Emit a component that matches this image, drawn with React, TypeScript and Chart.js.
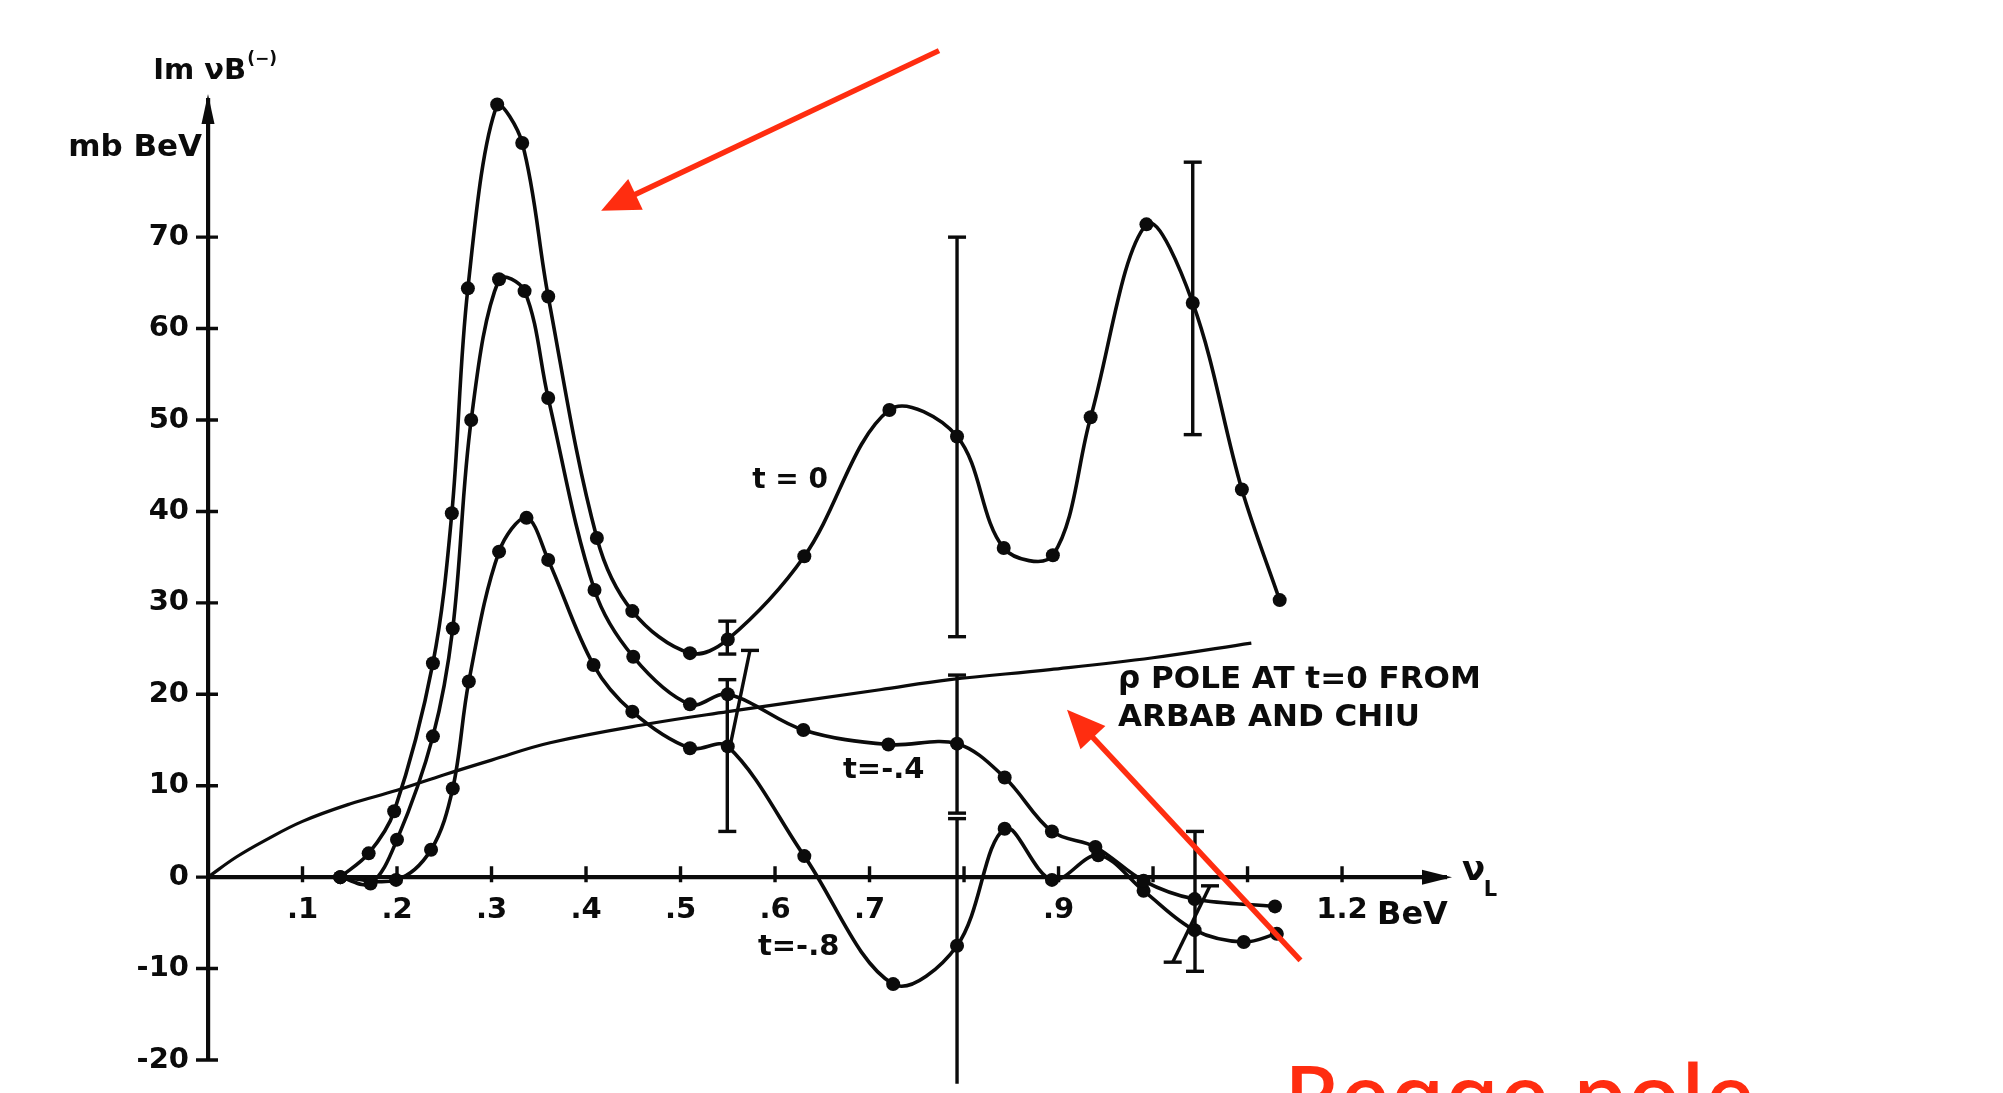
import React, { useEffect, useRef } from "react";
import { Chart, registerables } from "chart.js";
Chart.register(...registerables);

const W = 2003;
const H = 1093;
const INK = "#0b0b0b";
const RED = "#ff2d10";
const FONT = '"DejaVu Sans", sans-serif';

// ---- data (nu_L in BeV, Im nu B(-) in mb BeV) ----
const t0Nu = [0.14, 0.17, 0.197, 0.238, 0.258, 0.275, 0.306, 0.3325, 0.36, 0.4115, 0.449, 0.51, 0.55, 0.631, 0.721, 0.7926, 0.842, 0.894, 0.934, 0.993, 1.042, 1.094, 1.134];
const t0Im = [0, 2.6, 7.2, 23.4, 39.8, 64.4, 84.5, 80.3, 63.5, 37.1, 29.1, 24.5, 26.0, 35.1, 51.1, 48.2, 36.0, 35.2, 50.3, 71.4, 62.8, 42.4, 30.3];

const t4Nu = [0.14, 0.172, 0.2, 0.238, 0.259, 0.2785, 0.308, 0.335, 0.36, 0.409, 0.45, 0.51, 0.55, 0.63, 0.72, 0.7926, 0.843, 0.893, 0.939, 0.99, 1.044, 1.129];
const t4Im = [0, -0.7, 4.1, 15.4, 27.2, 50.0, 65.4, 64.1, 52.4, 31.4, 24.1, 18.9, 20.0, 16.1, 14.5, 14.6, 10.9, 5.0, 3.3, -0.4, -2.4, -3.2];

const t8Nu = [0.14, 0.199, 0.236, 0.259, 0.276, 0.308, 0.337, 0.36, 0.408, 0.449, 0.51, 0.55, 0.631, 0.725, 0.7926, 0.843, 0.893, 0.942, 0.99, 1.044, 1.096, 1.131];
const t8Im = [0, -0.3, 3.0, 9.7, 21.4, 35.6, 39.3, 34.7, 23.2, 18.1, 14.1, 14.3, 2.3, -11.7, -7.5, 5.3, -0.3, 2.4, -1.5, -5.8, -7.1, -6.2];

const poleNu = [0, 0.03, 0.06, 0.1, 0.15, 0.2, 0.25, 0.3, 0.362, 0.468, 0.55, 0.711, 0.785, 0.891, 1.0, 1.104];
const poleIm = [0, 2.2, 4.0, 6.1, 8.0, 9.5, 11.2, 12.8, 14.7, 16.8, 18.1, 20.5, 21.6, 22.7, 24.0, 25.6];

// error bars: from (errX1, errY1) to (errX2, errY2); caps flags
const errX1 = [0.5495, 0.5495, 0.5524, 0.7926, 0.7926, 0.7926, 1.042, 1.0444, 1.0208];
const errY1 = [24.4, 5.0, 14.3, 26.3, 7.0, -22.6, 48.4, -10.3, -9.3];
const errX2 = [0.5495, 0.5495, 0.5735, 0.7926, 0.7926, 0.7926, 1.042, 1.0444, 1.0603];
const errY2 = [28.0, 21.6, 24.8, 70.0, 22.1, 6.4, 78.2, 5.0, -0.95];
const errCap1 = [1, 1, 0, 1, 1, 0, 1, 1, 1];
const errCap2 = [1, 1, 1, 1, 1, 1, 1, 1, 1];

const xTickValues = [0.1, 0.2, 0.3, 0.4, 0.5, 0.6, 0.7, 0.8, 0.9, 1.0, 1.1, 1.2];
const xTickLabels = [".1", ".2", ".3", ".4", ".5", ".6", ".7", "", ".9", "", "", "1.2"];
const yTickValues = [-20, -10, 0, 10, 20, 30, 40, 50, 60, 70];
const yTickLabels = ["-20", "-10", "0", "10", "20", "30", "40", "50", "60", "70"];

const X_MIN = 0;
const X_MAX = 1.31;
const Y_MIN = -20;
const Y_MAX = 85;

const pts = (xs: number[], ys: number[]) => xs.map((x, i) => ({ x, y: ys[i] }));

const curveStyle = {
  borderColor: INK,
  backgroundColor: INK,
  borderWidth: 3.6,
  pointRadius: 7,
  pointBackgroundColor: INK,
  pointBorderWidth: 0,
  pointStyle: "circle",
  tension: 0.35,
  fill: false,
  clip: false as any,
};

function drawArrow(ctx: CanvasRenderingContext2D, x1: number, y1: number, x2: number, y2: number, len: number, half: number, lw: number, color: string) {
  const ang = Math.atan2(y2 - y1, x2 - x1);
  const bx = x2 - Math.cos(ang) * len;
  const by = y2 - Math.sin(ang) * len;
  ctx.strokeStyle = color;
  ctx.fillStyle = color;
  ctx.lineWidth = lw;
  ctx.lineCap = "butt";
  ctx.beginPath();
  ctx.moveTo(x1, y1);
  ctx.lineTo(bx + Math.cos(ang) * 4, by + Math.sin(ang) * 4);
  ctx.stroke();
  ctx.beginPath();
  ctx.moveTo(x2, y2);
  ctx.lineTo(bx + Math.sin(ang) * half, by - Math.cos(ang) * half);
  ctx.lineTo(bx - Math.sin(ang) * half, by + Math.cos(ang) * half);
  ctx.closePath();
  ctx.fill();
}

const decor = {
  id: "decor",
  beforeDraw(chart: any) {
    const ctx = chart.ctx;
    ctx.save();
    ctx.fillStyle = "#ffffff";
    ctx.fillRect(0, 0, chart.width, chart.height);
    ctx.restore();
  },
  afterDraw(chart: any) {
    const { ctx } = chart;
    const xs = chart.scales.x;
    const ys = chart.scales.y;
    const px = (v: number) => xs.getPixelForValue(v);
    const py = (v: number) => ys.getPixelForValue(v);
    ctx.save();

    // tick marks crossing the axes
    ctx.strokeStyle = INK;
    ctx.lineWidth = 3.4;
    ctx.beginPath();
    xTickValues.forEach((v) => {
      ctx.moveTo(px(v), py(0) - 11);
      ctx.lineTo(px(v), py(0) + 5);
    });
    yTickValues.forEach((v) => {
      ctx.moveTo(px(0) - 12, py(v));
      ctx.lineTo(px(0) + 10, py(v));
    });
    ctx.stroke();

    // axis arrowheads
    ctx.fillStyle = INK;
    ctx.beginPath();
    ctx.moveTo(px(0), py(Y_MAX) - 6);
    ctx.lineTo(px(0) - 6.5, py(Y_MAX) + 24);
    ctx.lineTo(px(0) + 6.5, py(Y_MAX) + 24);
    ctx.closePath();
    ctx.fill();
    ctx.beginPath();
    ctx.moveTo(px(X_MAX) + 6, py(0));
    ctx.lineTo(px(X_MAX) - 24, py(0) - 7.5);
    ctx.lineTo(px(X_MAX) - 24, py(0) + 7.5);
    ctx.closePath();
    ctx.fill();

    const txt = (s: string, xv: number, yv: number, font: string, align: CanvasTextAlign = "left", base: CanvasTextBaseline = "middle", color = INK) => {
      ctx.font = font;
      ctx.textAlign = align;
      ctx.textBaseline = base;
      ctx.fillStyle = color;
      ctx.fillText(s, px(xv), py(yv));
    };

    // axis titles
    txt("Im \u03bdB", -0.058, 88.1, `bold 29px ${FONT}`);
    ctx.font = `bold 29px ${FONT}`;
    const wIm = ctx.measureText("Im \u03bdB").width;
    ctx.font = `bold 17px ${FONT}`;
    ctx.textAlign = "left";
    ctx.textBaseline = "middle";
    ctx.fillText("(\u2212)", px(-0.058) + wIm + 1, py(89.4));
    txt("mb BeV", -0.148, 79.8, `bold 31px ${FONT}`);

    // curve labels
    txt("t = 0", 0.616, 43.35, `bold 28px ${FONT}`, "center");
    txt("t=-.4", 0.715, 11.7, `bold 29px ${FONT}`, "center");
    txt("t=-.8", 0.625, -7.7, `bold 29px ${FONT}`, "center");
    txt("\u03c1 POLE AT t=0 FROM", 0.963, 21.6, `bold 31px ${FONT}`);
    txt("ARBAB AND CHIU", 0.963, 17.4, `bold 31px ${FONT}`);

    // x-axis name
    txt("\u03bd", 1.327, 0.7, `bold 34px ${FONT}`);
    txt("L", 1.35, -1.5, `bold 21px ${FONT}`);
    txt("BeV", 1.237, -4.2, `bold 32px ${FONT}`);

    // red annotations
    drawArrow(ctx, px(0.7735), py(90.4), px(0.416), py(72.9), 38, 17, 5.5, RED);
    drawArrow(ctx, px(1.156), py(-9.1), px(0.909), py(18.3), 38, 17, 5.5, RED);
    txt("Regge pole", 1.1386, -27.4, `500 88px "Noto Sans", sans-serif`, "left", "alphabetic", RED);

    ctx.restore();
  },
};

export default function App() {
  const ref = useRef<HTMLCanvasElement | null>(null);
  useEffect(() => {
    if (!ref.current) return;
    const errSets = errX1.map((_, i) => ({
      label: "err" + i,
      data: [
        { x: errX1[i], y: errY1[i] },
        { x: errX2[i], y: errY2[i] },
      ],
      borderColor: INK,
      borderWidth: 3.4,
      pointStyle: "line",
      pointRadius: [errCap1[i] ? 9 : 0, errCap2[i] ? 9 : 0],
      pointBorderColor: INK,
      pointBorderWidth: 3.4,
      tension: 0,
      fill: false,
      clip: false as any,
    }));
    const chart = new Chart(ref.current, {
      type: "line",
      data: {
        datasets: [
          {
            label: "pole",
            data: pts(poleNu, poleIm),
            borderColor: INK,
            borderWidth: 3.2,
            pointRadius: 0,
            tension: 0.4,
            fill: false,
            clip: false as any,
          },
          { label: "t=0", data: pts(t0Nu, t0Im), ...curveStyle },
          { label: "t=-.4", data: pts(t4Nu, t4Im), ...curveStyle },
          { label: "t=-.8", data: pts(t8Nu, t8Im), ...curveStyle },
          ...errSets,
        ] as any,
      },
      options: {
        animation: false,
        responsive: false,
        devicePixelRatio: 1,
        events: [],
        layout: { padding: { left: 88, top: 100, right: 557, bottom: 33 } },
        plugins: {
          legend: { display: false },
          tooltip: { enabled: false },
          title: { display: false },
        },
        scales: {
          x: {
            type: "linear",
            min: X_MIN,
            max: X_MAX,
            position: { y: 0 } as any,
            afterBuildTicks: (s: any) => {
              s.ticks = xTickValues.map((v) => ({ value: v }));
            },
            afterFit: (s: any) => {
              s.paddingLeft = 0;
              s.paddingRight = 0;
              s.paddingTop = 0;
              s.paddingBottom = 0;
            },
            ticks: {
              autoSkip: false,
              maxRotation: 0,
              minRotation: 0,
              padding: 16,
              color: INK,
              font: { family: FONT, size: 29, weight: "bold" },
              callback: (_v: any, i: number) => xTickLabels[i],
            },
            grid: { display: true, drawOnChartArea: false, drawTicks: false },
            border: { display: true, color: INK, width: 4.2 },
          },
          y: {
            type: "linear",
            min: Y_MIN,
            max: Y_MAX,
            position: "left",
            afterBuildTicks: (s: any) => {
              s.ticks = yTickValues.map((v) => ({ value: v }));
            },
            afterFit: (s: any) => {
              s.width = 120;
              s.paddingTop = 0;
              s.paddingBottom = 0;
            },
            ticks: {
              autoSkip: false,
              padding: 19,
              color: INK,
              font: { family: FONT, size: 29, weight: "bold" },
              callback: (_v: any, i: number) => yTickLabels[i],
            },
            grid: { display: true, drawOnChartArea: false, drawTicks: false },
            border: { display: true, color: INK, width: 4.2 },
          },
        },
      } as any,
      plugins: [decor],
    });
    return () => chart.destroy();
  }, []);
  return (
    <div style={{ position: "fixed", left: 0, top: 0, width: W, height: H, background: "#fff" }}>
      <canvas ref={ref} width={W} height={H} style={{ width: W, height: H, display: "block" }} />
    </div>
  );
}
